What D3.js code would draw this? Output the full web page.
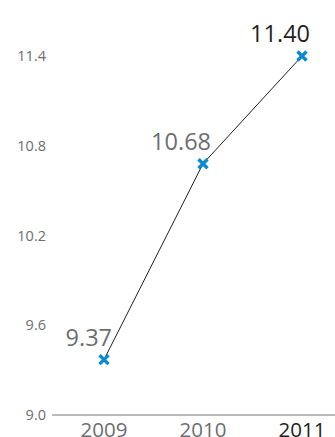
<!DOCTYPE html>
<html><head><meta charset="utf-8">
<script src="https://cdn.jsdelivr.net/npm/d3@7"></script>
<style>body{margin:0;background:#fff}svg{display:block}</style>
</head><body>
<svg id="c" width="335" height="437"></svg>
<script>
const years = ["2009","2010","2011"];
const values = [9.37, 10.68, 11.40];
const labels = ["9.37","10.68","11.40"];
const yTicks = [9.0, 9.6, 10.2, 10.8, 11.4];

const svg = d3.select("#c");
const font = "'Open Sans', 'DejaVu Sans', sans-serif";
const x = d3.scalePoint().domain(years).range([104, 302]);
const y = d3.scaleLinear().domain([9.0, 11.4]).range([415, 56]);

// baseline
svg.append("line").attr("x1", 52).attr("x2", 335)
  .attr("y1", y(9.0)).attr("y2", y(9.0))
  .attr("stroke", "#777").attr("stroke-width", 1.2);

// y tick labels
svg.selectAll(".yt").data(yTicks).enter().append("text")
  .attr("x", 46).attr("y", d => y(d)).attr("dy", "0.36em")
  .attr("text-anchor", "end").attr("font-family", font).attr("font-size", 14.5)
  .attr("fill", "#6d6e71").text(d => d.toFixed(1));

// x labels
svg.selectAll(".xt").data(years).enter().append("text")
  .attr("x", d => x(d)).attr("y", 437)
  .attr("text-anchor", "middle").attr("font-family", font).attr("font-size", 20.5)
  .attr("fill", (d, i) => i === 2 ? "#231f20" : "#6d6e71").text(d => d);

// line
const line = d3.line().x((d, i) => x(years[i])).y(d => y(d));
svg.append("path").datum(values).attr("d", line)
  .attr("fill", "none").attr("stroke", "#231f20").attr("stroke-width", 1);

// markers
const s = 4.5;
const g = svg.selectAll(".m").data(values).enter().append("g")
  .attr("transform", (d, i) => `translate(${x(years[i])},${y(d)})`);
g.append("path").attr("d", `M${-s},${-s}L${s},${s}M${-s},${s}L${s},${-s}`)
  .attr("stroke", "#0a8ad2").attr("stroke-width", 3.4).attr("stroke-linecap", "butt");

// value labels
svg.selectAll(".vl").data(values).enter().append("text")
  .attr("x", (d, i) => x(years[i]) + 8).attr("y", d => y(d) - 14)
  .attr("text-anchor", "end").attr("font-family", font).attr("font-size", 23.5)
  .attr("fill", (d, i) => i === 2 ? "#231f20" : "#6d6e71").text((d, i) => labels[i]);
</script>
</body></html>
